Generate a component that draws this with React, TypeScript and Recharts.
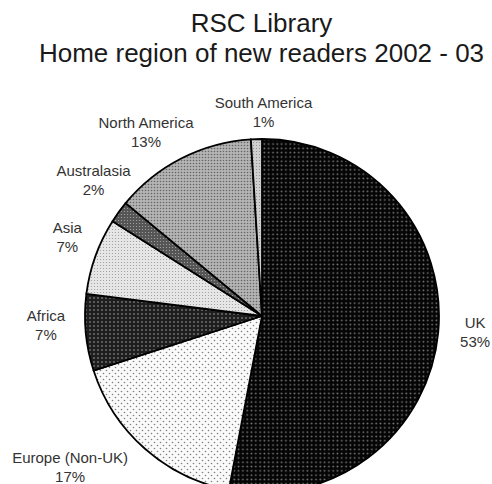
import { PieChart, Pie, Cell } from 'recharts';

const categories = ['UK', 'Europe (Non-UK)', 'Africa', 'Asia', 'Australasia', 'North America', 'South America'];
const shares = [53, 17, 7, 7, 2, 13, 1];
const titleLines = ['RSC Library', 'Home region of new readers 2002 - 03'];

const data = categories.map((name, i) => ({ name, value: shares[i] }));

// pattern fill per slice (greyscale halftone look of the original)
const fills: Record<string, string> = {
  UK: 'url(#pUK)',
  'Europe (Non-UK)': 'url(#pEurope)',
  Africa: 'url(#pAfrica)',
  Asia: 'url(#pAsia)',
  Australasia: 'url(#pAustralasia)',
  'North America': 'url(#pNorthAm)',
  'South America': 'url(#pSouthAm)',
};

// nudges for the outside labels, px from a plain radial position
const labelNudge: Record<string, [number, number]> = {
  UK: [7, -3],
  'Europe (Non-UK)': [-55, -4],
  Africa: [-10, -10],
  Asia: [0, -9],
  Australasia: [-1, -14],
  'North America': [-22, 0],
  'South America': [8, 3],
};

const FONT = '"Liberation Sans", Arial, sans-serif';
const RAD = Math.PI / 180;

const renderLabel = (props: any) => {
  const { cx, cy, midAngle, outerRadius, name, value } = props;
  const r = outerRadius + 30;
  const [dx, dy] = labelNudge[name] || [0, 0];
  const x = cx + r * Math.cos(-midAngle * RAD) + dx;
  const y = cy + r * Math.sin(-midAngle * RAD) + dy;
  return (
    <text x={x} y={y} textAnchor="middle" fontFamily={FONT} fontSize={15} fill="#333">
      <tspan x={x} dy={-4}>{name}</tspan>
      <tspan x={x} dy={19}>{value}%</tspan>
    </text>
  );
};

export default function App() {
  return (
    <div style={{ position: 'absolute', left: 0, top: 0, width: 492, height: 484, background: '#fff', overflow: 'hidden' }}>
      <div
        style={{
          position: 'absolute',
          left: 31,
          top: 8,
          width: 461,
          textAlign: 'center',
          fontFamily: FONT,
          fontSize: 26,
          lineHeight: '30px',
          color: '#1a1a1a',
          zIndex: 1,
        }}
      >
        {titleLines.map((t) => (
          <div key={t}>{t}</div>
        ))}
      </div>
      <PieChart width={492} height={484} margin={{ top: 0, right: 0, bottom: 0, left: 0 }}>
        <defs>
          <pattern id="pUK" patternUnits="userSpaceOnUse" width={4.3} height={4.3}>
            <rect width={4.3} height={4.3} fill="#050505" />
            <circle cx={2.1} cy={2.1} r={0.9} fill="#7a7a7a" />
          </pattern>
          <pattern id="pEurope" patternUnits="userSpaceOnUse" width={6} height={6}>
            <rect width={6} height={6} fill="#fafafa" />
            <circle cx={1.5} cy={1.5} r={0.8} fill="#808080" />
            <circle cx={4.5} cy={4.5} r={0.8} fill="#808080" />
          </pattern>
          <pattern id="pAfrica" patternUnits="userSpaceOnUse" width={4} height={4}>
            <rect width={4} height={4} fill="#1e1e1e" />
            <circle cx={2} cy={2} r={0.9} fill="#777" />
          </pattern>
          <pattern id="pAsia" patternUnits="userSpaceOnUse" width={3} height={3}>
            <rect width={3} height={3} fill="#e6e6e6" />
            <circle cx={1.5} cy={1.5} r={0.6} fill="#999" />
          </pattern>
          <pattern id="pAustralasia" patternUnits="userSpaceOnUse" width={3} height={3}>
            <rect width={3} height={3} fill="#555" />
            <circle cx={1.5} cy={1.5} r={0.6} fill="#aaa" />
          </pattern>
          <pattern id="pNorthAm" patternUnits="userSpaceOnUse" width={3} height={3}>
            <rect width={3} height={3} fill="#b4b4b4" />
            <circle cx={1.5} cy={1.5} r={0.8} fill="#666" />
          </pattern>
          <pattern id="pSouthAm" patternUnits="userSpaceOnUse" width={3} height={3}>
            <rect width={3} height={3} fill="#cfcfcf" />
            <circle cx={1.5} cy={1.5} r={0.6} fill="#888" />
          </pattern>
        </defs>
        <Pie
          data={data}
          dataKey="value"
          nameKey="name"
          cx={262}
          cy={316}
          outerRadius={177}
          startAngle={90}
          endAngle={-270}
          stroke="#000"
          strokeWidth={1.8}
          label={renderLabel}
          labelLine={false}
          isAnimationActive={false}
        >
          {data.map((d) => (
            <Cell key={d.name} fill={fills[d.name]} />
          ))}
        </Pie>
      </PieChart>
    </div>
  );
}
